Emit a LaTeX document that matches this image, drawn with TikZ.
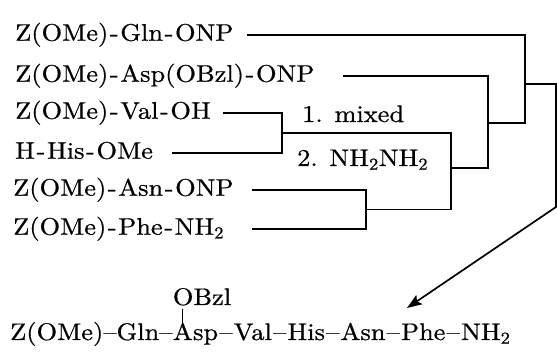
\documentclass[tikz,border=0pt]{standalone}
\usepackage{fontspec}
\setmainfont{lmroman10-regular.otf}[FakeStretch=1.1,FakeBold=0.7]
\usetikzlibrary{arrows.meta}
\newcommand\pdash{\kern1.6pt-\kern1.6pt}
\newcommand\wdash{\kern1.2pt--\kern1.2pt}
\begin{document}
\begin{tikzpicture}[x=1pt,y=-1pt,
  txt/.style={font=\fontsize{24}{28}\selectfont, inner sep=0pt,
              text height=17.5pt, text depth=6pt, anchor=west},
  lbl/.style={font=\fontsize{24}{28}\selectfont, inner sep=0pt, anchor=base west},
  wire/.style={line width=1.7pt},
  stem/.style={line width=0.9pt}]
\useasboundingbox (0,0) rectangle (557,352);
% starting materials
\node[txt] (r1) at (15,35)  {Z(OMe)\pdash Gln\pdash ONP};
\node[txt] (r2) at (15,76)  {Z(OMe)\pdash Asp(OBzl)\pdash ONP};
\node[txt] (r3) at (15,113) {Z(OMe)\pdash Val\pdash OH};
\node[txt] (r4) at (15,153) {H\pdash His\pdash OMe};
\node[txt] (r5) at (13,190) {Z(OMe)\pdash Asn\pdash ONP};
\node[txt] (r6) at (13,229) {Z(OMe)\pdash Phe\pdash NH\textsubscript{2}};
% reagents
\node[lbl] (l1) at (302,122) {1. mixed};
\node[lbl] (l2) at (297,166) {2. NH\textsubscript{2}NH\textsubscript{2}};
% product
\node[lbl] (m1) at (10,340) {Z(OMe)--Gln--};
\node[lbl, text height=16pt] (m2) at (m1.base east) {A};
\node[lbl] (m3) at (m2.base east) {sp\wdash Val\wdash His\wdash Asn\wdash Phe\wdash NH\textsubscript{2}};
\node[lbl] (ob) at ([yshift=35pt]m2.base west) {OBzl};
\draw[stem] ([yshift=-4pt]m2.north |- ob.base) -- (m2.north);
% free line ends and corners
\coordinate (s1) at (r1.east -| 247,0);
\coordinate (s2) at (r2.east -| 343,0);
\coordinate (s3) at (r3.east -| 223,0);
\coordinate (s4) at (r4.east -| 172,0);
\coordinate (s5) at (r5.east -| 252,0);
\coordinate (s6) at (r6.east -| 252,0);
\coordinate (tip) at (407,308);
% connectors
\draw[wire] (s3) -| (282,153) -- (s4);
\draw[wire] (s5) -| (366,229) -- (s6);
\draw[wire] (282,133) -| (451,209.5) -- (366,209.5);
\draw[wire] (s2) -| (488,168) -- (451,168);
\draw[wire] (s1) -| (525,123) -- (488,123);
\draw[wire, -{Stealth[length=15pt,width=11pt,inset=3pt]}] (525,84) -| (556,207) -- (tip);
\end{tikzpicture}
\end{document}
